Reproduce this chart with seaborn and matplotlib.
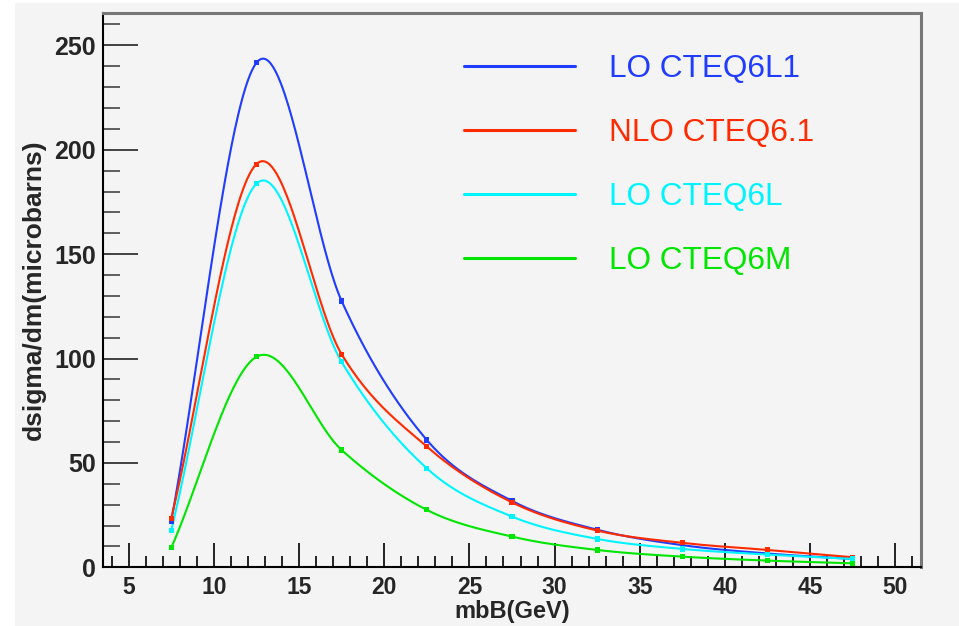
import numpy as np
import pandas as pd
import matplotlib
matplotlib.use("Agg")
import matplotlib.pyplot as plt
import seaborn as sns
from matplotlib.ticker import MultipleLocator
from matplotlib.patches import Rectangle

# ---- data ----
mbb = [7.5, 12.5, 17.5, 22.5, 27.5, 32.5, 37.5, 42.5, 47.5]
lo_cteq6l1 = [22.0, 241.6, 127.6, 61.0, 31.8, 18.0, 10.6, 6.6, 4.0]
nlo_cteq61 = [23.2, 193.1, 102.1, 57.8, 31.1, 17.6, 11.7, 8.3, 4.8]
lo_cteq6l = [17.6, 183.7, 98.4, 47.4, 24.3, 13.6, 8.8, 6.1, 4.0]
lo_cteq6m = [9.3, 100.8, 56.2, 27.5, 14.7, 8.3, 5.1, 3.2, 1.9]
series_names = ["LO CTEQ6L1", "NLO CTEQ6.1", "LO CTEQ6L", "LO CTEQ6M"]
series_values = [lo_cteq6l1, nlo_cteq61, lo_cteq6l, lo_cteq6m]
line_colors = ["#1f3cff", "#ff2a00", "#00f4ff", "#00e600"]
x_ticks = [5, 10, 15, 20, 25, 30, 35, 40, 45, 50]
y_ticks = [0, 50, 100, 150, 200, 250]


def smooth_curve(x, y, xs):
    """Catmull-Rom (cubic Hermite) curve through the data points."""
    x = np.asarray(x, float)
    y = np.asarray(y, float)
    n = len(x)
    m = np.empty(n)
    m[1:-1] = (y[2:] - y[:-2]) / (x[2:] - x[:-2])
    m[0] = (y[1] - y[0]) / (x[1] - x[0])
    m[-1] = (y[-1] - y[-2]) / (x[-1] - x[-2])
    idx = np.clip(np.searchsorted(x, xs) - 1, 0, n - 2)
    h = x[idx + 1] - x[idx]
    t = (xs - x[idx]) / h
    h00 = 2 * t ** 3 - 3 * t ** 2 + 1
    h10 = t ** 3 - 2 * t ** 2 + t
    h01 = -2 * t ** 3 + 3 * t ** 2
    h11 = t ** 3 - t ** 2
    return h00 * y[idx] + h10 * h * m[idx] + h01 * y[idx + 1] + h11 * h * m[idx + 1]


pts = pd.DataFrame({
    "mbB": np.tile(mbb, len(series_names)),
    "val": np.concatenate(series_values),
    "series": np.repeat(series_names, len(mbb)),
})
xs = np.linspace(mbb[0], mbb[-1], 600)
curves = pd.concat([
    pd.DataFrame({"mbB": xs, "val": smooth_curve(mbb, v, xs), "series": n})
    for n, v in zip(series_names, series_values)
])

sns.set_theme(style="white")
plt.rcParams["font.family"] = ["Liberation Sans", "DejaVu Sans"]

bg = "#f4f4f4"
fig = plt.figure(figsize=(9.59, 6.26), dpi=100, facecolor=bg)
ax = fig.add_axes([103 / 959, 1 - 567.3 / 626, (921 - 103) / 959, (567.3 - 13) / 626])
ax.set_facecolor(bg)
fig.patches.append(Rectangle((0, 0), 15 / 959, 1, transform=fig.transFigure,
                             facecolor="white", edgecolor="none", zorder=-1))
fig.patches.append(Rectangle((0, 1 - 3 / 626), 1, 3 / 626, transform=fig.transFigure,
                             facecolor="white", edgecolor="none", zorder=-1))

pal = dict(zip(series_names, line_colors))
sns.lineplot(data=curves, x="mbB", y="val", hue="series", palette=pal,
             hue_order=series_names, estimator=None, sort=False, lw=1.5,
             ax=ax, legend=True)
sns.scatterplot(data=pts, x="mbB", y="val", hue="series", palette=pal,
                hue_order=series_names, marker="s", s=14, edgecolor="none",
                ax=ax, legend=False, zorder=3)

ax.set_xlim(3.5, 51.5)
ax.set_ylim(0, 265.5)
ax.set_xticks(x_ticks)
ax.set_yticks(y_ticks)
ax.xaxis.set_minor_locator(MultipleLocator(1))
ax.yaxis.set_minor_locator(MultipleLocator(10))
ax.tick_params(which="both", bottom=True, left=True, top=False, right=False)
ax.tick_params(axis="x", which="major", direction="in", length=17, width=1.2,
               color="black", labelsize=16.5, pad=6)
ax.tick_params(axis="x", which="minor", direction="in", length=8, width=1.2, color="black")
ax.tick_params(axis="y", which="major", direction="in", length=25, width=1.2,
               color="#222222", labelsize=18, pad=5)
ax.tick_params(axis="y", which="minor", direction="in", length=12, width=1.2, color="#444444")
for lab in ax.get_xticklabels() + ax.get_yticklabels():
    lab.set_fontweight("bold")

for side in ["left", "bottom"]:
    ax.spines[side].set_color("black")
    ax.spines[side].set_linewidth(1.5)
for side in ["top", "right"]:
    ax.spines[side].set_color("#777777")
    ax.spines[side].set_linewidth(2.2)

ax.set_xlabel("mbB(GeV)", fontsize=17, fontweight="bold", labelpad=1)
ax.set_ylabel("dsigma/dm(microbarns)", fontsize=19, fontweight="bold", labelpad=6)

handles, labels = ax.get_legend_handles_labels()
leg = ax.legend(handles, labels, loc="upper left",
                bbox_to_anchor=((464 - 103) / 818, 1 - (54 - 13) / 554.3),
                frameon=False, fontsize=22.7, handlelength=3.52, handletextpad=1.08,
                labelspacing=1.08, borderpad=0, borderaxespad=0, labelcolor="linecolor")
for h in leg.get_lines():
    h.set_linewidth(2.2)

fig.savefig("out.png", dpi=100, facecolor=bg)
